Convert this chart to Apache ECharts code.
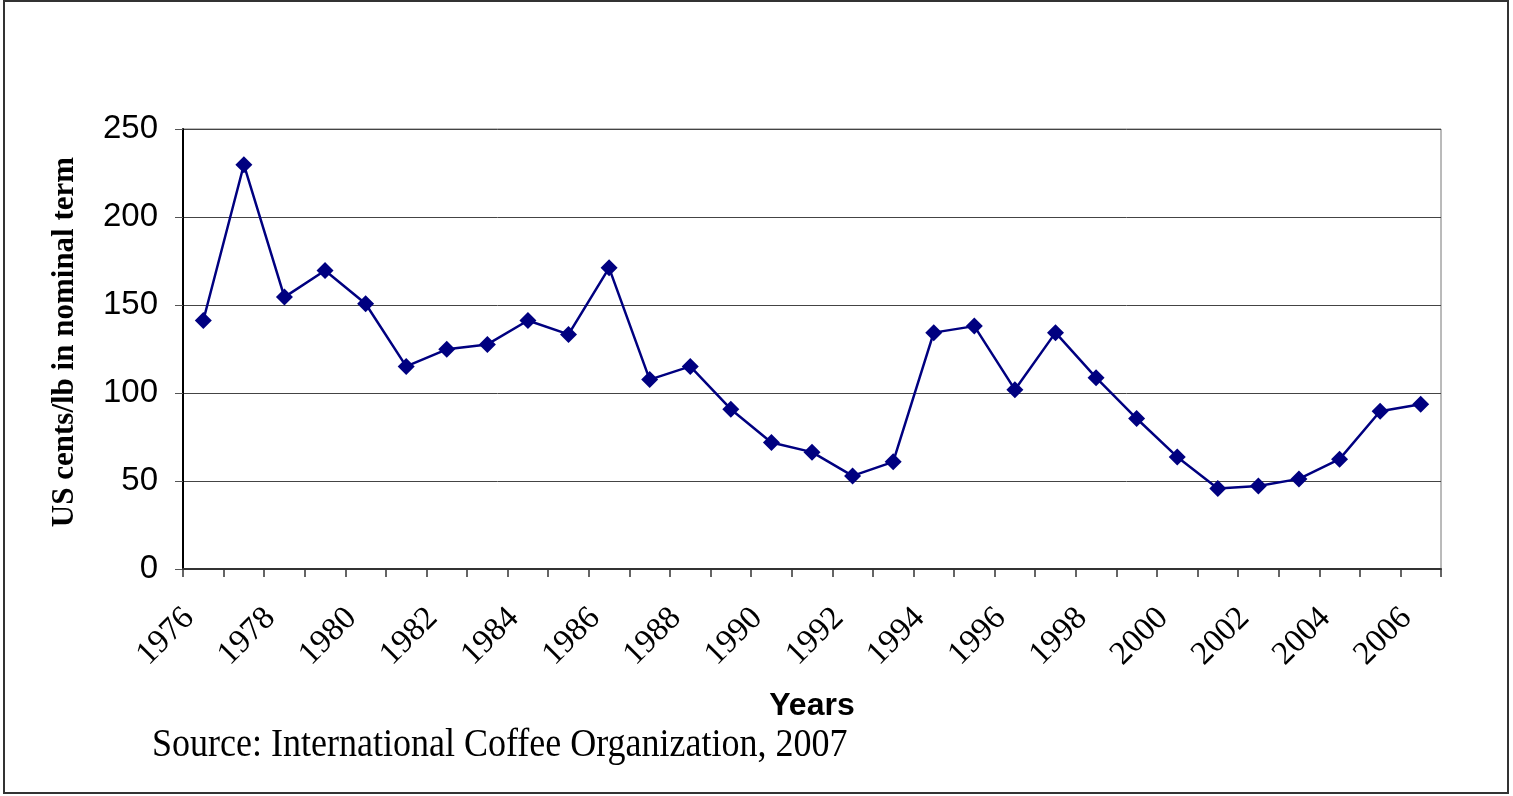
<!DOCTYPE html>
<html>
<head>
<meta charset="utf-8">
<title>Coffee prices 1976-2006</title>
<script src="https://cdn.jsdelivr.net/npm/echarts@6/dist/echarts.min.js"></script>
<style>
  html, body { margin: 0; padding: 0; background: #fff; }
  #chart { width: 1513px; height: 796px; }
</style>
</head>
<body>
<div id="chart"></div>
<script>
// Annual coffee prices, US cents per lb (nominal)
const years = [
  '1976','1977','1978','1979','1980','1981','1982','1983','1984','1985',
  '1986','1987','1988','1989','1990','1991','1992','1993','1994','1995',
  '1996','1997','1998','1999','2000','2001','2002','2003','2004','2005','2006'
];
const prices = [
  141.2, 229.7, 154.5, 169.6, 150.7, 115.1, 124.8, 127.6, 141.2, 133.3,
  171.1, 107.6, 115.1, 90.8, 71.9, 66.4, 52.9, 60.9, 134.3, 138.0,
  101.9, 134.3, 108.7, 85.5, 63.7, 45.8, 47.2, 51.2, 62.4, 89.6, 93.6
];
const yTicks = { min: 0, max: 250, step: 50 };

const yTitle = 'US cents/lb in nominal term';
const xTitle = 'Years';
const sourceNote = 'Source: International Coffee Organization, 2007';

const chart = echarts.init(document.getElementById('chart'), null, { renderer: 'canvas' });

chart.setOption({
  animation: false,
  backgroundColor: '#ffffff',
  grid: {
    left: 183, right: 72, top: 129, bottom: 227,
    show: true, borderColor: '#777', borderWidth: 1
  },
  xAxis: {
    type: 'category',
    data: years,
    boundaryGap: true,
    name: xTitle,
    nameLocation: 'middle',
    nameGap: 121,
    nameTextStyle: {
      fontFamily: 'Liberation Sans', fontWeight: 'bold', fontSize: 32, color: '#000'
    },
    axisLine: { show: true, lineStyle: { color: '#333', width: 2 } },
    axisTick: { show: true, interval: 0, alignWithLabel: false, length: 8, lineStyle: { color: '#333', width: 1.5 } },
    axisLabel: {
      interval: 1,
      rotate: 45,
      margin: 30,
      padding: [0, 20, 0, 0],
      fontFamily: 'Liberation Serif',
      fontSize: 33,
      color: '#000'
    },
    splitLine: { show: false }
  },
  yAxis: {
    type: 'value',
    min: yTicks.min,
    max: yTicks.max,
    interval: yTicks.step,
    axisLine: { show: true, lineStyle: { color: '#000', width: 2 } },
    axisTick: { show: true, inside: false, length: 8, lineStyle: { color: '#555', width: 1 } },
    axisLabel: {
      margin: 25,
      fontFamily: 'Liberation Sans',
      fontSize: 33,
      color: '#000'
    },
    splitLine: { show: true, lineStyle: { color: '#444', width: 1 } }
  },
  series: [{
    type: 'line',
    data: prices,
    symbol: 'diamond',
    symbolSize: 17,
    showSymbol: true,
    lineStyle: { color: '#000080', width: 2.5 },
    itemStyle: { color: '#000080' },
    emphasis: { disabled: true }
  }],
  graphic: [
    {
      type: 'rect',
      shape: { x: 4, y: 1, width: 1504, height: 792 },
      style: { fill: 'none', stroke: '#333', lineWidth: 2 },
      silent: true,
      z: -1
    },
    {
      type: 'text',
      x: 65, y: 342,
      rotation: Math.PI / 2,
      style: {
        text: yTitle,
        font: 'bold 31px "Liberation Serif"',
        fill: '#000',
        align: 'center',
        verticalAlign: 'middle'
      }
    },
    {
      type: 'text',
      x: 152, y: 745,
      scaleX: 0.9,
      style: {
        text: sourceNote,
        font: '40px "Liberation Serif"',
        fill: '#000',
        align: 'left',
        verticalAlign: 'middle'
      }
    }
  ]
});
</script>
</body>
</html>
